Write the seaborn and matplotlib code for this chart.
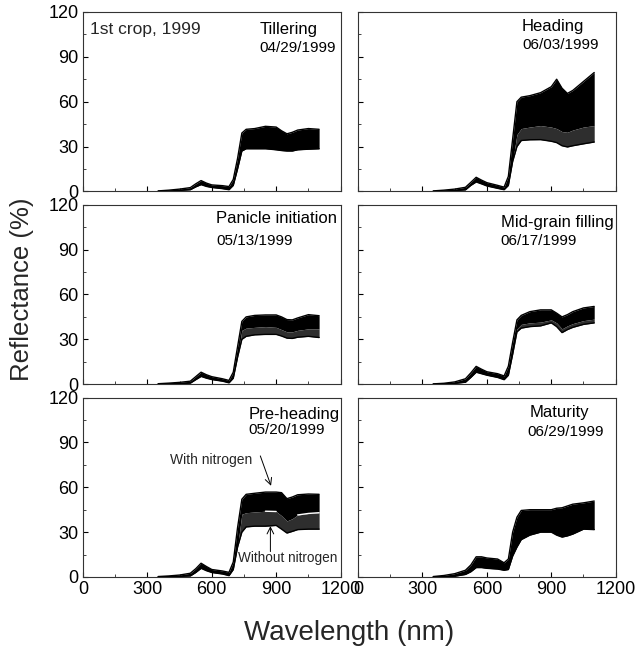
import numpy as np
import pandas as pd
import matplotlib
matplotlib.use("Agg")
import matplotlib.pyplot as plt
from matplotlib.ticker import MultipleLocator
import seaborn as sns

# ---------------- data ----------------
wavelength = [350, 400, 450, 500, 525, 550, 575, 600, 650, 680, 700, 720, 740,
              760, 800, 850, 900, 925, 950, 975, 1000, 1050, 1100]

stages = ["Tillering", "Heading", "Panicle initiation", "Mid-grain filling",
          "Pre-heading", "Maturity"]
dates = ["04/29/1999", "06/03/1999", "05/13/1999", "06/17/1999",
         "05/20/1999", "06/29/1999"]

tillering_upper = [0.3, 0.8, 1.5, 2.5, 5.0, 7.2, 5.5, 4.3, 3.8, 3.2, 8, 22, 39,
                   41.5, 42, 43.5, 43, 40.5, 38.5, 39.5, 41, 42, 41.5]
tillering_lower = [0, 0.2, 0.6, 1.1, 3.0, 4.5, 3.3, 2.6, 1.8, 1.1, 4, 15, 27,
                   28.5, 28.5, 28.5, 27.8, 27.3, 27, 27, 27.8, 28.2, 28.5]
tillering_mid = tillering_lower

heading_upper = [0.3, 0.8, 1.5, 2.7, 6.0, 9.4, 7.5, 5.8, 4.0, 2.8, 10, 35, 60,
                 63, 64, 66, 70, 75, 69, 65.5, 67.5, 73.5, 79.5]
heading_lower = [0, 0.2, 0.5, 1.0, 4.0, 6.3, 5.0, 3.6, 2.0, 1.1, 4, 20, 30,
                 34, 34.5, 34.6, 33.5, 32.6, 30.5, 29.7, 30.5, 31.8, 33]
heading_mid = [0, 0.2, 0.5, 1.0, 4.0, 6.3, 5.0, 3.6, 2.0, 1.1, 4, 20, 38,
               42, 43, 44, 43, 42, 40, 39.5, 41, 43, 44]

panicle_upper = [0.3, 0.7, 1.2, 2.0, 5.0, 8.0, 6.3, 5.0, 3.6, 2.5, 8, 25, 42,
                 45, 46, 46.3, 46.3, 45, 43.2, 43, 44.3, 46.5, 45.8]
panicle_lower = [0, 0.2, 0.4, 0.7, 3.0, 5.2, 4.0, 3.1, 2.0, 0.9, 4, 18, 30,
                 32, 33, 33.3, 33.3, 32.2, 30.8, 30.6, 31.4, 32, 31.2]
panicle_mid = [0, 0.2, 0.4, 0.7, 3.0, 5.2, 4.0, 3.1, 2.0, 0.9, 4, 18, 36,
               37.5, 38, 38.5, 38, 36.5, 35, 35, 36, 37, 37]

midgrain_upper = [0.2, 0.6, 1.5, 3.6, 7.5, 11.9, 10, 8.3, 7.0, 5.5, 12, 28, 43,
                  46, 48.5, 49.7, 49.7, 47.5, 45, 46.5, 48.5, 51, 52]
midgrain_lower = [0, 0.2, 0.5, 1.3, 4.5, 8.0, 7.0, 6.0, 4.5, 3.0, 6, 20, 35,
                  37.5, 38.5, 39, 41, 38.5, 34.5, 36.5, 38, 40, 41]
midgrain_mid = [0, 0.2, 0.5, 1.3, 4.5, 8.0, 7.0, 6.0, 4.5, 3.0, 6, 20, 37,
                40, 41, 41.5, 43, 41, 37, 39, 40.5, 42.5, 43.5]

preheading_upper = [0.3, 0.7, 1.3, 2.5, 5.5, 9.2, 7.0, 5.0, 4.0, 3.1, 10, 33, 52,
                    55.3, 56, 56.8, 56.8, 56.4, 52.4, 53.5, 55, 55.5, 55.3]
preheading_lower = [0, 0.2, 0.4, 0.7, 3.0, 5.8, 4.2, 3.0, 2.0, 0.9, 5, 20, 30,
                    33.5, 34, 34, 34.5, 32, 29.4, 30.5, 31.7, 32, 32]
preheading_mid = [0, 0.2, 0.4, 0.7, 3.0, 5.8, 4.2, 3.0, 2.0, 0.9, 5, 20, 42,
                  43, 43.5, 44, 43.8, 41, 37.5, 39, 41.5, 42.5, 43]

maturity_upper = [0.3, 1.0, 2.2, 4.5, 8.0, 13.5, 13.5, 12.7, 12.0, 9.5, 12, 30, 40,
                  44.5, 45, 45, 45, 46, 46.3, 47.5, 48.7, 49.6, 50.8]
maturity_lower = [0, 0.2, 0.5, 1.7, 3.5, 6.3, 6.3, 5.8, 5.3, 4.5, 5, 14, 20,
                  25, 28, 30, 30, 28, 26.7, 27.5, 28.7, 32, 31.7]
maturity_mid = maturity_lower

uppers = [tillering_upper, heading_upper, panicle_upper, midgrain_upper,
          preheading_upper, maturity_upper]
lowers = [tillering_lower, heading_lower, panicle_lower, midgrain_lower,
          preheading_lower, maturity_lower]
mids = [tillering_mid, heading_mid, panicle_mid, midgrain_mid,
        preheading_mid, maturity_mid]

x_ticks = [0, 300, 600, 900, 1200]
y_ticks = [0, 30, 60, 90, 120]

# text anchor positions (data coords) for stage / date labels
stage_pos = [(822, 108.5), (763, 110), (621, 110.5), (665, 108), (770, 109), (801, 110)]
date_pos = [(822, 96), (764, 98), (621, 96), (665, 96), (769, 98), (790, 97)]

# ---------------- plotting ----------------
sns.set_theme(style="ticks")
plt.rcParams["font.family"] = ["Liberation Sans", "DejaVu Sans"]
plt.rcParams["xtick.direction"] = "in"
plt.rcParams["ytick.direction"] = "in"

fig, axes = plt.subplots(3, 2, figsize=(6.4, 6.51), dpi=100, sharex=True, sharey=True)
fig.subplots_adjust(left=0.1297, right=0.962, top=0.9816, bottom=0.1137,
                    wspace=0.068, hspace=0.075)

wl = np.array(wavelength)
for i, ax in enumerate(axes.flat):
    up = np.array(uppers[i])
    lo = np.array(lowers[i])
    mi = np.array(mids[i])
    df = pd.DataFrame({"wl": np.concatenate([wl, wl]),
                       "refl": np.concatenate([up, lo]),
                       "edge": ["upper"] * len(wl) + ["lower"] * len(wl)})
    ax.fill_between(wl, mi, up, color="black", lw=0, zorder=2)
    ax.fill_between(wl, lo, mi, color="#2e2e2e", lw=0, zorder=2)
    sns.lineplot(data=df, x="wl", y="refl", units="edge", estimator=None,
                 color="black", lw=1.0, ax=ax, zorder=3)
    ax.set_xlabel("")
    ax.set_ylabel("")
    ax.set_xlim(0, 1200)
    ax.set_ylim(0, 120)
    ax.set_xticks(x_ticks)
    ax.set_yticks(y_ticks)
    ax.xaxis.set_minor_locator(MultipleLocator(150))
    ax.yaxis.set_minor_locator(MultipleLocator(15))
    ax.tick_params(which="major", length=3.5, width=0.8, labelsize=13, colors="black",
                   top=False, right=False, pad=3)
    ax.tick_params(which="minor", length=2, width=0.6, top=False, right=False)
    for s in ax.spines.values():
        s.set_linewidth(0.8)
        s.set_color("#333333")
        s.set_visible(True)
    ax.text(stage_pos[i][0], stage_pos[i][1], stages[i], fontsize=12,
            ha="left", va="center", color="black")
    ax.text(date_pos[i][0], date_pos[i][1], dates[i], fontsize=11,
            ha="left", va="center", color="black")
    if i % 2 == 0:
        ax.tick_params(axis="y", labelleft=True)
    if i >= 4:
        ax.tick_params(axis="x", labelbottom=True)

axes[0, 0].text(33, 108.5, "1st crop, 1999", fontsize=12.5, ha="left", va="center")

# pre-heading annotations
axp = axes[2, 0]
mask1 = (wl >= 850) & (wl <= 900)
mask2 = (wl >= 1000)
pm = np.array(preheading_mid)
axp.plot(wl[mask1], pm[mask1], color="white", lw=1.0, zorder=4)
axp.plot(wl[mask2], pm[mask2], color="white", lw=1.0, zorder=4)
axp.text(406, 78, "With nitrogen", fontsize=10, ha="left", va="center", zorder=5)
axp.annotate("", xy=(876, 61), xytext=(826, 81),
             arrowprops=dict(arrowstyle="->", color="black", lw=0.7,
                             shrinkA=0, shrinkB=0), zorder=5)
axp.annotate("", xy=(873, 34), xytext=(873, 17),
             arrowprops=dict(arrowstyle="->", color="black", lw=0.7,
                             shrinkA=0, shrinkB=0), zorder=5)
axp.text(722, 12.5, "Without nitrogen", fontsize=9.8, ha="left", va="center", zorder=5)

fig.text(0.034, 0.555, "Reflectance (%)", rotation=90, fontsize=18.5,
         ha="center", va="center")
fig.text(0.545, 0.028, "Wavelength (nm)", fontsize=20, ha="center", va="center")

fig.savefig("out.png", dpi=100, facecolor="white")
